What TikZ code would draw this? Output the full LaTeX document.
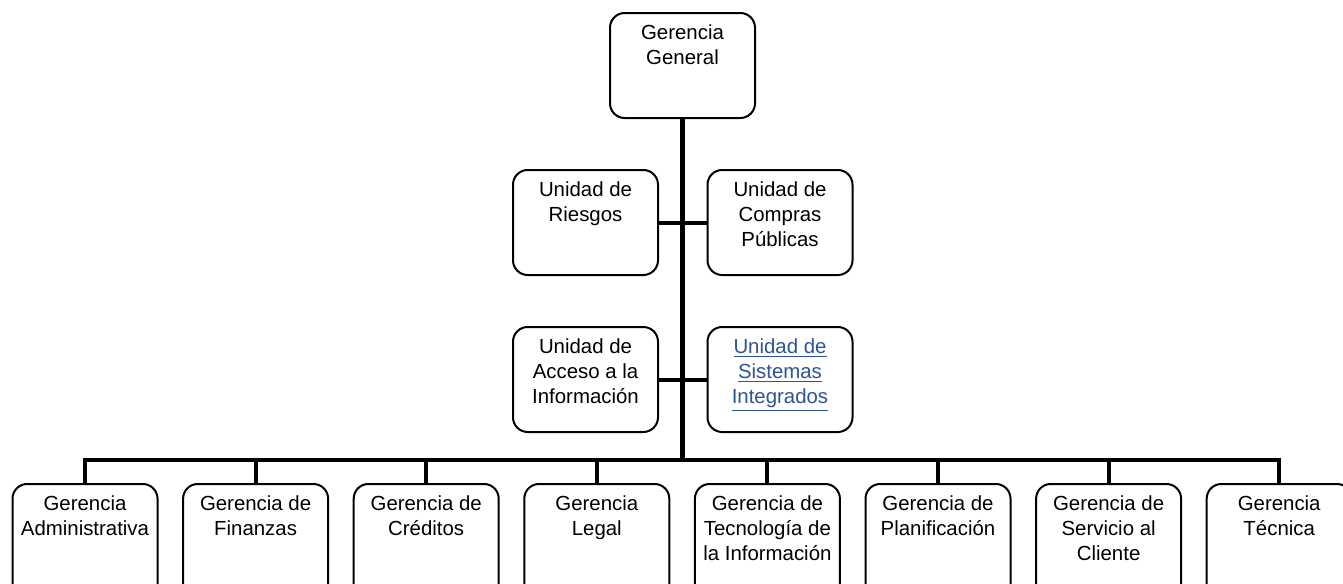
\documentclass[tikz,border=0pt]{standalone}
\usepackage{fontspec}
\setmainfont{Liberation Sans}
\definecolor{linkblue}{RGB}{46,84,150}
% text block of a box: fixed width and height, lines set from the top
\newcommand{\orgtext}[2]{\parbox[c][#1][t]{108.75pt}{\centering\vspace*{6.9pt}\strut #2\par}}
\begin{document}
\begin{tikzpicture}[x=0.75pt,y=-0.75pt,
  orgbox/.style={draw, line width=1.5pt, rounded corners=11pt, inner sep=0pt,
    anchor=north, font=\fontsize{15.3}{18.75}\selectfont},
  trunk/.style={line width=3.75pt},
  branch/.style={line width=3pt}]
\useasboundingbox (0,0) rectangle (1343,583);
\clip (0,0) rectangle (1343,583);

% top level
\node[orgbox] (gg) at (682.5,12) {\orgtext{78.75pt}{Gerencia\\General}};

% staff units beside the trunk
\node[orgbox] (ri) at (585.5,169) {\orgtext{78.75pt}{Unidad de\\Riesgos}};
\node[orgbox] (cp) at (780,169) {\orgtext{78.75pt}{Unidad de\\Compras\\Públicas}};
\node[orgbox] (ac) at (585.5,326) {\orgtext{78.75pt}{Unidad de\\Acceso a la\\Información}};
\node[orgbox] (si) at (780,326) {\orgtext{78.75pt}{\color{linkblue}\underline{Unidad de}\\\underline{Sistemas}\\\underline{Integrados}}};

% line managements
\node[orgbox] (b1) at (85,483)     {\orgtext{86.25pt}{Gerencia\\Administrativa}};
\node[orgbox] (b2) at (255.6,483)  {\orgtext{86.25pt}{Gerencia de\\Finanzas}};
\node[orgbox] (b3) at (426.2,483)  {\orgtext{86.25pt}{Gerencia de\\Créditos}};
\node[orgbox] (b4) at (596.8,483)  {\orgtext{86.25pt}{Gerencia\\Legal}};
\node[orgbox] (b5) at (767.4,483)  {\orgtext{86.25pt}{Gerencia de\\Tecnología de\\la Información}};
\node[orgbox] (b6) at (938,483)    {\orgtext{86.25pt}{Gerencia de\\Planificación}};
\node[orgbox] (b7) at (1108.6,483) {\orgtext{86.25pt}{Gerencia de\\Servicio al\\Cliente}};
\node[orgbox] (b8) at (1279.2,483) {\orgtext{86.25pt}{Gerencia\\Técnica}};

% connectors
\coordinate (hub) at (gg.south |- 0,460);
\draw[trunk] (gg.south) -- (hub);
\draw[branch] (ri.east) -- (ri.east -| gg.south);
\draw[branch] (cp.west) -- (cp.west -| gg.south);
\draw[branch] (ac.east) -- (ac.east -| gg.south);
\draw[branch] (si.west) -- (si.west -| gg.south);
\foreach \b in {b1,b2,b3,b4,b5,b6,b7,b8}
  \draw[branch] (hub) -| (\b.north);
\end{tikzpicture}
\end{document}
